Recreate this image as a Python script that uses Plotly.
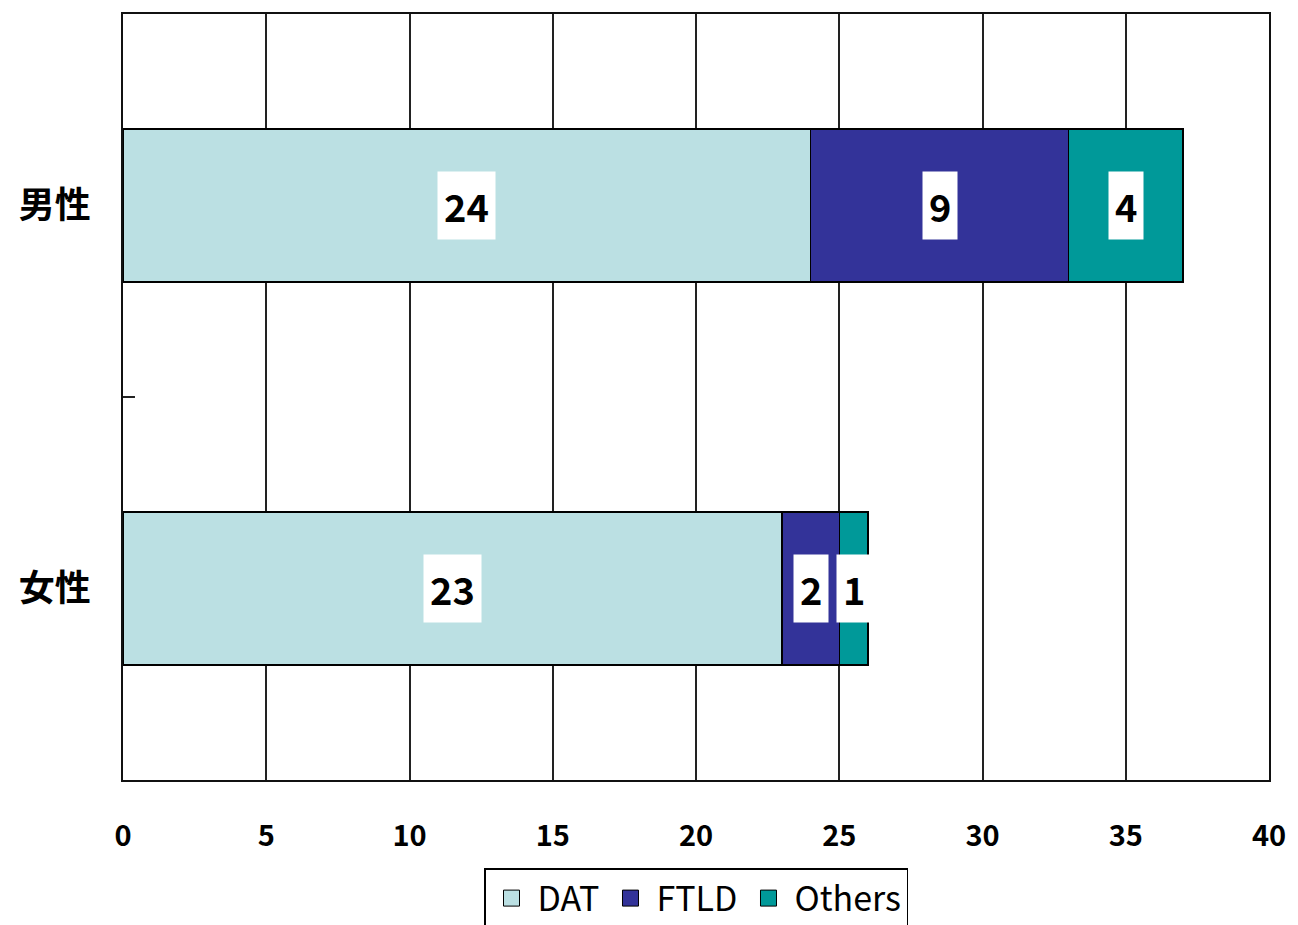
import plotly.graph_objects as go

# Cases by sex and diagnosis
categories = ["女性", "男性"]
series_names = ["DAT", "FTLD", "Others"]
dat = [23, 24]
ftld = [2, 9]
others = [1, 4]
x_ticks = [0, 5, 10, 15, 20, 25, 30, 35, 40]

colors = {"DAT": "#BBE0E3", "FTLD": "#333399", "Others": "#009999"}
FONT = "Noto Sans CJK JP, Noto Sans, sans-serif"

series = {"DAT": dat, "FTLD": ftld, "Others": others}

fig = go.Figure()
for name in series_names:
    fig.add_trace(go.Bar(
        y=categories, x=series[name], name=name, orientation="h",
        marker=dict(color=colors[name], line=dict(color="#000000", width=1.5)),
        hoverinfo="x+y+name", showlegend=False, legendgroup=name,
    ))

# Legend entries with larger square swatches
for name in series_names:
    fig.add_trace(go.Scatter(
        x=[None], y=[None], mode="markers", name=name, legendgroup=name,
        marker=dict(symbol="square", size=16, color=colors[name],
                    line=dict(color="#000000", width=1)),
        showlegend=True,
    ))

# Value labels on white boxes, centred on each segment
for i, cat in enumerate(categories):
    base = 0
    for name in series_names:
        v = series[name][i]
        fig.add_annotation(
            x=base + v / 2, y=cat, xref="x", yref="y",
            text=f"<b>{v}</b>", showarrow=False,
            font=dict(family=FONT, size=38, color="#000000"),
            bgcolor="#FFFFFF", borderpad=6,
        )
        base += v

# Small tick between the two categories
fig.add_shape(type="line", xref="paper", yref="y",
              x0=0, x1=12 / 1149, y0=0.5, y1=0.5,
              line=dict(color="#222222", width=2))

fig.update_layout(
    width=1298, height=925,
    margin=dict(l=123, r=26, t=14, b=145),
    paper_bgcolor="#FFFFFF", plot_bgcolor="#FFFFFF",
    barmode="stack", bargap=0.6,
    font=dict(family=FONT, color="#000000"),
    showlegend=True,
    legend=dict(
        orientation="h", xref="paper", x=0.5, xanchor="center",
        yref="container", y=1 - 868 / 925, yanchor="top",
        font=dict(family=FONT, size=34, color="#000000"),
        bordercolor="#000000", borderwidth=1.5, bgcolor="#FFFFFF",
        traceorder="normal", itemsizing="trace", itemwidth=42,
    ),
    xaxis=dict(
        range=[0, 40], tickvals=x_ticks, ticktext=[f"<b>{t}</b>" for t in x_ticks],
        showgrid=True, gridcolor="#222222", gridwidth=1.5,
        showline=True, linecolor="#111111", linewidth=2, mirror=True,
        ticks="", ticklabelstandoff=29, zeroline=False,
        tickfont=dict(family=FONT, size=29, color="#000000"),
    ),
    yaxis=dict(
        categoryorder="array", categoryarray=categories,
        tickvals=categories, ticktext=[f"<b>{c}</b>" for c in categories],
        showgrid=False, showline=True, linecolor="#111111", linewidth=2, mirror=True,
        ticks="", ticklabelstandoff=23,
        tickfont=dict(family=FONT, size=36, color="#000000"),
    ),
)

fig.write_html("out.html")
